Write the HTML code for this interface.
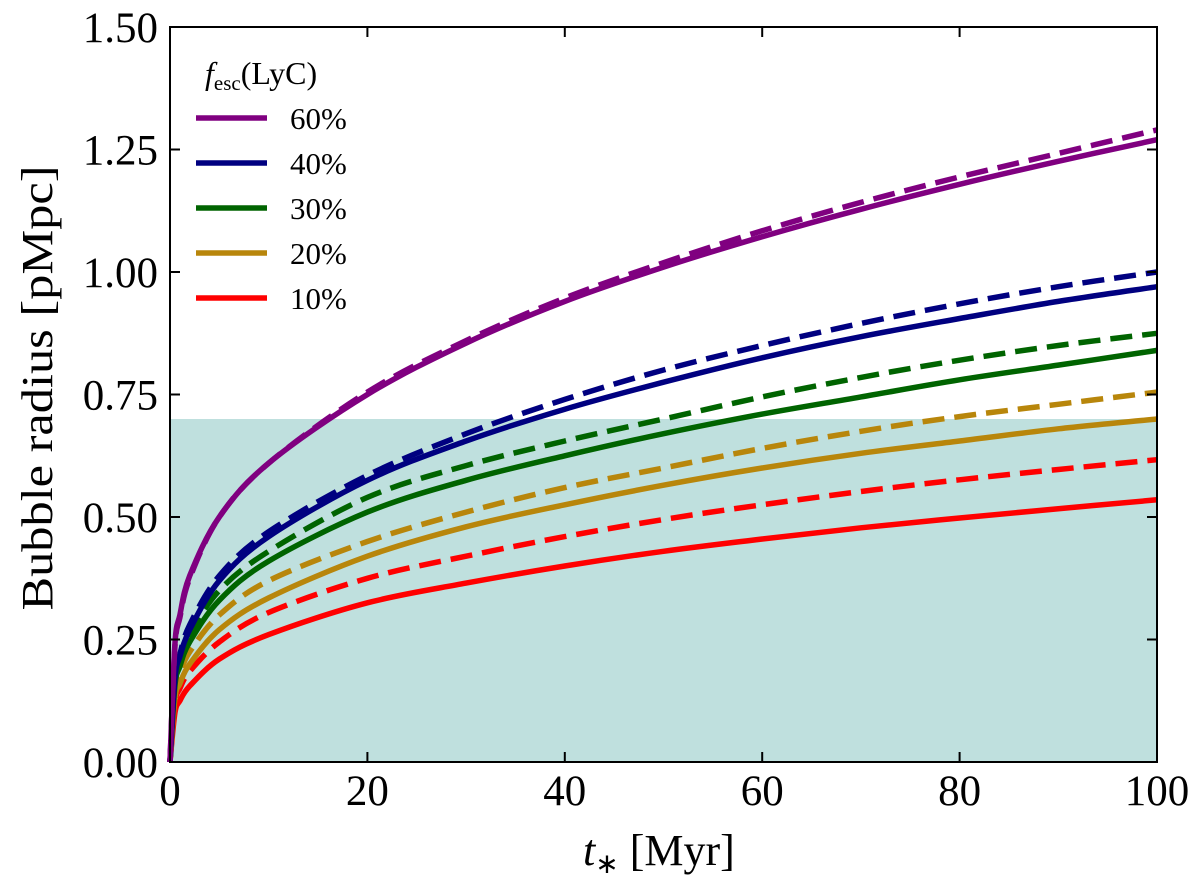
<!DOCTYPE html>
<html><head><meta charset="utf-8"><style>
body{margin:0;background:#fff;}
svg text{font-family:"Liberation Serif",serif;fill:#000;}
</style></head><body>
<svg id="chart" width="1200" height="881" xmlns="http://www.w3.org/2000/svg">
<g id="shade"></g><g id="lines"></g><g id="axes"></g><g id="legend"></g>
</svg>
<script>
const tVals=[0,0.5,1,2,5,10,20,30,40,50,60,70,80,90,100];
const solid60=[0,0.24,0.30,0.38,0.50,0.61,0.75,0.855,0.94,1.01,1.072,1.128,1.179,1.226,1.27];
const dash60=[0,0.235,0.295,0.375,0.50,0.61,0.755,0.86,0.947,1.019,1.084,1.142,1.194,1.242,1.29];
const solid40=[0,0.17,0.215,0.27,0.37,0.46,0.575,0.655,0.72,0.775,0.825,0.868,0.905,0.94,0.97];
const dash40=[0,0.175,0.22,0.28,0.38,0.47,0.585,0.67,0.74,0.80,0.85,0.895,0.935,0.97,1.0];
const solid30=[0,0.155,0.195,0.245,0.33,0.41,0.51,0.575,0.625,0.67,0.71,0.745,0.78,0.81,0.84];
const dash30=[0,0.165,0.205,0.26,0.35,0.43,0.54,0.605,0.655,0.70,0.745,0.785,0.82,0.85,0.875];
const solid20=[0,0.13,0.16,0.20,0.27,0.335,0.42,0.48,0.525,0.565,0.60,0.63,0.655,0.68,0.70];
const dash20=[0,0.145,0.18,0.225,0.30,0.37,0.45,0.51,0.56,0.60,0.64,0.675,0.705,0.73,0.755];
const solid10=[0,0.10,0.125,0.155,0.21,0.26,0.325,0.365,0.40,0.43,0.455,0.478,0.498,0.517,0.535];
const dash10=[0,0.12,0.15,0.185,0.245,0.305,0.375,0.42,0.46,0.495,0.525,0.552,0.576,0.597,0.617];
const xTicks=[0,20,40,60,80,100];
const yTicks=[0,0.25,0.5,0.75,1.0,1.25,1.5];
const yTickLabels=["0.00","0.25","0.50","0.75","1.00","1.25","1.50"];
const legendLabels=["60%","40%","30%","20%","10%"];
const shadeTop=0.7;

const X0=170,X1=1157,Y0=762,Y1=27;
const sx=v=>X0+(v/100)*(X1-X0);
const sy=v=>Y0-(v/1.5)*(Y0-Y1);
const NS="http://www.w3.org/2000/svg";
function mk(tag,attrs,parent){const e=document.createElementNS(NS,tag);for(const k in attrs)e.setAttribute(k,attrs[k]);parent.appendChild(e);return e;}
function smoothPath(xs,ys){
 const P=xs.map((x,i)=>[sx(x),sy(ys[i])]);
 let d='M'+P[0][0].toFixed(1)+','+P[0][1].toFixed(1);
 for(let i=0;i<P.length-1;i++){
  const p0=P[Math.max(0,i-1)],p1=P[i],p2=P[i+1],p3=P[Math.min(P.length-1,i+2)];
  const c1=[p1[0]+(p2[0]-p0[0])/6,p1[1]+(p2[1]-p0[1])/6];
  const c2=[p2[0]-(p3[0]-p1[0])/6,p2[1]-(p3[1]-p1[1])/6];
  d+='C'+c1[0].toFixed(1)+','+c1[1].toFixed(1)+' '+c2[0].toFixed(1)+','+c2[1].toFixed(1)+' '+p2[0].toFixed(1)+','+p2[1].toFixed(1);
 }
 return d;
}

const shade=document.getElementById('shade');
const r=mk('rect',{x:X0,y:sy(shadeTop),width:X1-X0,height:Y0-sy(shadeTop),fill:'#bfe0de'},shade);



const series=[
 [solid10,dash10,'#ff0000','10'],[solid20,dash20,'#b8860b','20'],[solid30,dash30,'#006400','30'],
 [solid40,dash40,'#000080','40'],[solid60,dash60,'#800080','60']];
const lines=document.getElementById('lines');
series.forEach(s=>{
 [[s[0],'solid',''],[s[1],'dashed','22,10']].forEach(v=>{
  const p=mk('path',{d:smoothPath(tVals,v[0]),fill:'none',stroke:s[2],'stroke-width':5.5,'stroke-linejoin':'round'},lines);
  if(v[2])p.setAttribute('stroke-dasharray',v[2]);
  
  
 });
});

const axes=document.getElementById('axes');
const fr=mk('rect',{x:X0,y:Y1,width:X1-X0,height:Y0-Y1,fill:'none',stroke:'#000','stroke-width':2},axes);


xTicks.forEach(v=>{
 const x=sx(v);
 mk('line',{x1:x,x2:x,y1:Y0,y2:Y0-10,stroke:'#000','stroke-width':2},axes);
 mk('line',{x1:x,x2:x,y1:Y1,y2:Y1+10,stroke:'#000','stroke-width':2},axes);
 const t=mk('text',{x:x,y:805,'font-size':43,'text-anchor':'middle'},axes);t.textContent=v;
 
 
});
yTicks.forEach((v,i)=>{
 const y=sy(v);
 mk('line',{x1:X0,x2:X0+10,y1:y,y2:y,stroke:'#000','stroke-width':2},axes);
 mk('line',{x1:X1,x2:X1-10,y1:y,y2:y,stroke:'#000','stroke-width':2},axes);
 const t=mk('text',{x:158,y:y+15,'font-size':43,'text-anchor':'end'},axes);t.textContent=yTickLabels[i];
 
 
});
const xt=mk('text',{x:583,y:865,'font-size':44},axes);
xt.innerHTML='<tspan font-style="italic">t</tspan><tspan font-size="28" dy="8">∗</tspan><tspan dy="-8"> [Myr]</tspan>';


const yt=mk('text',{x:0,y:0,'font-size':44,'text-anchor':'middle',textLength:445,lengthAdjust:'spacingAndGlyphs',transform:'translate(52,388) rotate(-90)'},axes);
yt.textContent='Bubble radius [pMpc]';



const lg=document.getElementById('legend');
const lt=mk('text',{x:205,y:84,'font-size':32},lg);
lt.innerHTML='<tspan font-style="italic">f</tspan><tspan font-size="21" dy="6">esc</tspan><tspan dy="-6">(LyC)</tspan>';


const lcols=['#800080','#000080','#006400','#b8860b','#ff0000'];
legendLabels.forEach((l,i)=>{
 const y=118+i*45;
 const ln=mk('line',{x1:196,x2:267,y1:y,y2:y,stroke:lcols[i],'stroke-width':5.5},lg);
 
 
 const t=mk('text',{x:290,y:y+11,'font-size':31},lg);t.textContent=l;
 
 
});
</script>
</body></html>
